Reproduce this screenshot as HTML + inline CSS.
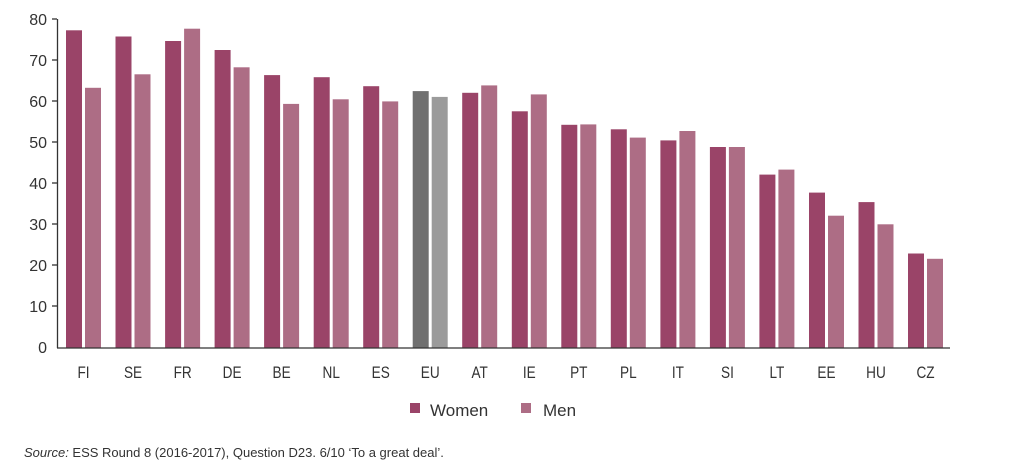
<!DOCTYPE html>
<html><head><meta charset="utf-8"><style>
body{margin:0;background:#fff;}
svg{display:block;font-family:"Liberation Sans","DejaVu Sans",sans-serif;}
</style></head><body>
<svg width="1024" height="476" viewBox="0 0 1024 476">
<g fill="#333" font-size="16" text-anchor="end">
<text x="47" y="25">80</text><text x="47" y="66">70</text><text x="47" y="107">60</text><text x="47" y="148">50</text><text x="47" y="189">40</text><text x="47" y="230">30</text><text x="47" y="271">20</text><text x="47" y="312">10</text><text x="47" y="353">0</text>
</g>
<g fill="#9a4468">
<rect x="66" y="30.3" width="16" height="317.7"/>
<rect x="115.5" y="36.5" width="16" height="311.5"/>
<rect x="165.1" y="41" width="16" height="307"/>
<rect x="214.6" y="50" width="16" height="298"/>
<rect x="264.1" y="75.1" width="16" height="272.9"/>
<rect x="313.7" y="77.2" width="16" height="270.8"/>
<rect x="363.2" y="86.2" width="16" height="261.8"/>
<rect x="462.2" y="92.8" width="16" height="255.2"/>
<rect x="511.8" y="111.3" width="16" height="236.7"/>
<rect x="561.3" y="124.8" width="16" height="223.2"/>
<rect x="610.8" y="129.3" width="16" height="218.7"/>
<rect x="660.4" y="140.4" width="16" height="207.6"/>
<rect x="709.9" y="147" width="16" height="201"/>
<rect x="759.4" y="174.6" width="16" height="173.4"/>
<rect x="809" y="192.6" width="16" height="155.4"/>
<rect x="858.5" y="202.1" width="16" height="145.9"/>
<rect x="908" y="253.5" width="16" height="94.5"/>
</g>
<g fill="#ad6d85">
<rect x="85" y="87.8" width="16" height="260.2"/>
<rect x="134.5" y="74.3" width="16" height="273.7"/>
<rect x="184.1" y="28.7" width="16" height="319.3"/>
<rect x="233.6" y="67.3" width="16" height="280.7"/>
<rect x="283.1" y="103.9" width="16" height="244.1"/>
<rect x="332.7" y="99.3" width="16" height="248.7"/>
<rect x="382.2" y="101.4" width="16" height="246.6"/>
<rect x="481.2" y="85.4" width="16" height="262.6"/>
<rect x="530.8" y="94.4" width="16" height="253.6"/>
<rect x="580.3" y="124.4" width="16" height="223.6"/>
<rect x="629.8" y="137.6" width="16" height="210.4"/>
<rect x="679.4" y="131" width="16" height="217"/>
<rect x="728.9" y="147" width="16" height="201"/>
<rect x="778.4" y="169.6" width="16" height="178.4"/>
<rect x="828" y="215.7" width="16" height="132.3"/>
<rect x="877.5" y="224.3" width="16" height="123.7"/>
<rect x="927" y="258.8" width="16" height="89.2"/>
</g>
<rect x="412.7" y="91.1" width="16" height="256.9" fill="#707070"/>
<rect x="431.7" y="96.9" width="16" height="251.1" fill="#9b9b9b"/>
<g stroke="#333" stroke-width="1.3">
<line x1="57.5" y1="19" x2="57.5" y2="348"/>
<line x1="57" y1="348" x2="950" y2="348"/>
<line x1="52" y1="19" x2="57" y2="19"/><line x1="52" y1="60" x2="57" y2="60"/><line x1="52" y1="101" x2="57" y2="101"/><line x1="52" y1="142" x2="57" y2="142"/><line x1="52" y1="183" x2="57" y2="183"/><line x1="52" y1="224" x2="57" y2="224"/><line x1="52" y1="265" x2="57" y2="265"/><line x1="52" y1="306" x2="57" y2="306"/>
</g>
<g fill="#333" font-size="17" text-anchor="middle" transform="scale(0.8,1)">
<text x="104.4" y="378">FI</text>
<text x="166.3" y="378">SE</text>
<text x="228.3" y="378">FR</text>
<text x="290.1" y="378">DE</text>
<text x="352" y="378">BE</text>
<text x="414" y="378">NL</text>
<text x="475.9" y="378">ES</text>
<text x="537.8" y="378">EU</text>
<text x="599.6" y="378">AT</text>
<text x="661.6" y="378">IE</text>
<text x="723.5" y="378">PT</text>
<text x="785.4" y="378">PL</text>
<text x="847.4" y="378">IT</text>
<text x="909.3" y="378">SI</text>
<text x="971.1" y="378">LT</text>
<text x="1033.1" y="378">EE</text>
<text x="1095" y="378">HU</text>
<text x="1156.9" y="378">CZ</text>
</g>
<rect x="410" y="403" width="10" height="10" fill="#9a4468"/>
<text x="430" y="416" font-size="17" fill="#333">Women</text>
<rect x="521" y="403" width="10" height="10" fill="#ad6d85"/>
<text x="543" y="416" font-size="17" fill="#333">Men</text>
<text x="24" y="457" font-size="13" fill="#333"><tspan font-style="italic">Source:</tspan> ESS Round 8 (2016-2017), Question D23. 6/10 ‘To a great deal’.</text>
</svg>
</body></html>
